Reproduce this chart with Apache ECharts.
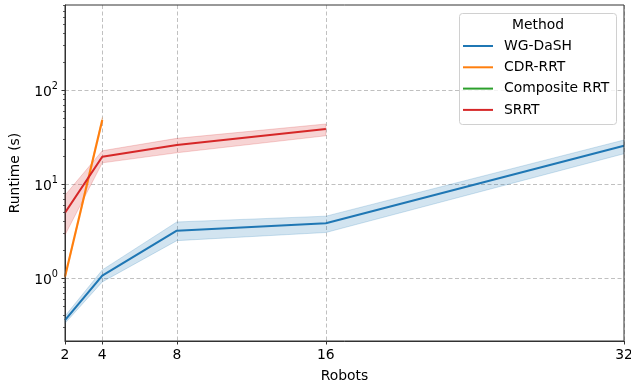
<!DOCTYPE html>
<html>
<head>
<meta charset="utf-8">
<script src="https://cdn.jsdelivr.net/npm/echarts@6/dist/echarts.min.js"></script>
<style>
  html, body { margin: 0; padding: 0; background: #fff; }
  #chart { width: 631px; height: 390px; }
</style>
</head>
<body>
<div id="chart"></div>
<script>
// Runtime of each planner versus team size (mean with 95% band)
const robots = [2, 4, 8, 16, 32];
const xTicks = [2, 4, 8, 16, 32];
const yTicks = [1, 10, 100];
const yMinorTicks = [0.3, 0.4, 0.5, 0.6, 0.7, 0.8, 0.9,
                     2, 3, 4, 5, 6, 7, 8, 9,
                     20, 30, 40, 50, 60, 70, 80, 90,
                     200, 300, 400, 500, 600, 700, 800];

const methods = ['WG-DaSH', 'CDR-RRT', 'Composite RRT', 'SRRT'];
const colors = ['#1f77b4', '#ff7f0e', '#2ca02c', '#d62728'];

// WG-DaSH
const wgRobots = [2, 4, 8, 16, 32];
const wgMean = [0.357, 1.06, 3.19, 3.82, 25.5];
const wgLow = [0.33, 0.91, 2.5, 3.05, 21.0];
const wgHigh = [0.394, 1.22, 3.95, 4.55, 29.4];

// CDR-RRT
const cdrRobots = [2, 4];
const cdrMean = [1.03, 48];
const cdrLow = [0.98, 45];
const cdrHigh = [1.08, 51];

// Composite RRT (no successful runs)
const compRobots = [];
const compMean = [];

// SRRT
const srrtRobots = [2, 4, 8, 16];
const srrtMean = [4.95, 19.5, 26.0, 38.5];
const srrtLow = [2.87, 16.8, 21.5, 32.6];
const srrtHigh = [7.6, 22.6, 30.6, 43.5];

const FONT = 'DejaVu Sans';
const FS = 13.9;

function pairs(xs, ys) { return xs.map((x, i) => [x, ys[i]]); }

function band(name, xs, lo, hi, color) {
  return {
    type: 'custom',
    name: name + ' band',
    silent: true,
    z: 1,
    data: xs.map((x, i) => [x, lo[i], hi[i]]),
    renderItem: function (params, api) {
      if (params.dataIndex !== 0) return null;
      const pts = [];
      for (let i = 0; i < xs.length; i++) pts.push(api.coord([xs[i], hi[i]]));
      for (let i = xs.length - 1; i >= 0; i--) pts.push(api.coord([xs[i], lo[i]]));
      return {
        type: 'polygon',
        shape: { points: pts },
        style: { fill: color, opacity: 0.2, stroke: color, lineWidth: 1 }
      };
    }
  };
}

function line(name, xs, ys, color) {
  return {
    type: 'line',
    name: name,
    data: pairs(xs, ys),
    symbol: 'none',
    color: color,
    z: 3,
    lineStyle: { width: 2.1, color: color },
    silent: true
  };
}

const chart = echarts.init(document.getElementById('chart'), null, { renderer: 'canvas' });

const option = {
  animation: false,
  backgroundColor: '#fff',
  textStyle: { fontFamily: FONT },
  grid: {
    left: 65, right: 7, top: 5, bottom: 49,
    containLabel: false,
    outerBoundsMode: 'none',
    show: true, borderColor: '#333', borderWidth: 1, z: 5
  },
  xAxis: {
    type: 'value',
    min: 2, max: 32,
    name: 'Robots',
    nameLocation: 'middle',
    nameGap: 28,
    nameTextStyle: { fontFamily: FONT, fontSize: FS, color: '#000' },
    axisLine: { show: true, lineStyle: { color: '#333', width: 1 } },
    axisTick: { show: true, length: 3.5, customValues: xTicks, lineStyle: { color: '#333' } },
    axisLabel: { customValues: xTicks, margin: 7, fontFamily: FONT, fontSize: FS, color: '#000', hideOverlap: false },
    splitLine: { show: true, lineStyle: { color: '#b0b0b0', width: 0.8, type: [4, 2.5] } }
  },
  yAxis: {
    type: 'log',
    logBase: 10,
    min: 0.214, max: 802,
    name: 'Runtime (s)',
    nameLocation: 'middle',
    nameGap: 43,
    nameTextStyle: { fontFamily: FONT, fontSize: FS, color: '#000' },
    axisLine: { show: true, lineStyle: { color: '#333', width: 1 } },
    axisTick: { show: true, length: 3.5, customValues: yTicks, lineStyle: { color: '#333' } },
    axisLabel: {
      customValues: yTicks,
      margin: 7,
      fontFamily: FONT, fontSize: FS, color: '#000',
      formatter: function (v) {
        return '{b|10}{s|' + Math.round(Math.log10(v)) + '}';
      },
      rich: {
        b: { fontFamily: FONT, fontSize: FS, color: '#000', lineHeight: 18, verticalAlign: 'bottom' },
        s: { fontFamily: FONT, fontSize: 9.7, color: '#000', lineHeight: 10, verticalAlign: 'top' }
      }
    },
    splitLine: { show: true, lineStyle: { color: '#b0b0b0', width: 0.8, type: [4, 2.5] } }
  },
  legend: {
    data: methods,
    orient: 'vertical',
    left: 458, top: 34,
    itemWidth: 30, itemHeight: 14, itemGap: 7.3,
    icon: 'path://M0,6 L30,6 L30,8 L0,8 Z',
    textStyle: { fontFamily: FONT, fontSize: FS, color: '#000', padding: [0, 0, 0, 6] },
    selectedMode: false,
    z: 20
  },
  graphic: [
    {
      type: 'rect', z: 15, silent: true,
      shape: { x: 459.5, y: 13.5, width: 157, height: 111, r: 3 },
      style: { fill: 'rgba(255,255,255,0.8)', stroke: '#d0d0d0', lineWidth: 1 }
    },
    {
      type: 'text', z: 16, silent: true,
      x: 538, y: 25,
      style: { text: 'Method', fontFamily: FONT, fontSize: FS, fill: '#000', align: 'center', verticalAlign: 'middle' }
    }
  ],
  series: [
    band('WG-DaSH', wgRobots, wgLow, wgHigh, colors[0]),
    band('CDR-RRT', cdrRobots, cdrLow, cdrHigh, colors[1]),
    band('SRRT', srrtRobots, srrtLow, srrtHigh, colors[3]),
    line('WG-DaSH', wgRobots, wgMean, colors[0]),
    line('CDR-RRT', cdrRobots, cdrMean, colors[1]),
    line('Composite RRT', compRobots, compMean, colors[2]),
    line('SRRT', srrtRobots, srrtMean, colors[3]),
    {
      type: 'custom',
      name: 'minor ticks',
      silent: true,
      clip: false,
      z: 6,
      data: yMinorTicks.map(v => [2, v]),
      renderItem: function (params, api) {
        const p = api.coord([api.value(0), api.value(1)]);
        return {
          type: 'line',
          shape: { x1: p[0] - 2, y1: Math.round(p[1]) + 0.5, x2: p[0], y2: Math.round(p[1]) + 0.5 },
          style: { stroke: '#333', lineWidth: 0.8 }
        };
      }
    }
  ]
};

chart.setOption(option);
</script>
</body>
</html>
